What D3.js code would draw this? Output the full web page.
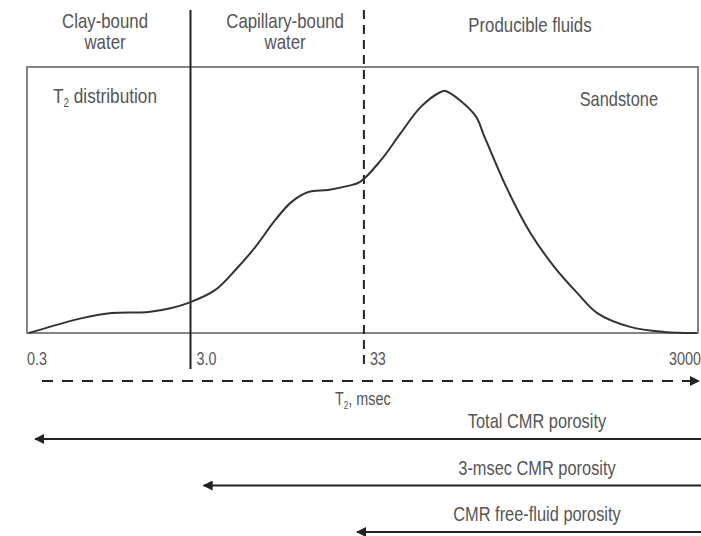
<!DOCTYPE html>
<html>
<head>
<meta charset="utf-8">
<script src="https://cdn.jsdelivr.net/npm/d3@7"></script>
<style>
  body { margin: 0; background: #fff; }
  svg text { font-family: "Liberation Sans", Arial, sans-serif; fill: #555; }
</style>
</head>
<body>
<div id="chart"></div>
<script>
// Data
const t2Values = [0.32, 0.54, 0.67, 1.01, 1.68, 2.31, 2.92, 4.23, 5.58, 7.35, 9.69, 12.1, 15.3, 20.1, 26.5, 31.3,
    41.8, 55.0, 72.5, 95.5, 102, 153, 175, 241, 330, 460, 632, 832, 1312, 2095, 3300];
const amplitude = [0, 0.041, 0.056, 0.075, 0.079, 0.094, 0.113, 0.162, 0.237, 0.323, 0.425, 0.492, 0.530, 0.538, 0.553, 0.568,
    0.650, 0.752, 0.850, 0.906, 0.910, 0.820, 0.737, 0.538, 0.376, 0.248, 0.150, 0.075, 0.023, 0.004, 0];

const tickValues = [0.3, 3, 33, 3000];
const tickLabels = ["0.3", "3.0", "33", "3000"];

const cutoffs = [3, 33];          // solid, dashed
const zoneLabels = [["Clay-bound", "water"], ["Capillary-bound", "water"], ["Producible fluids"]];
const zoneCenters = [0.92, 11.1, 328]; // T2 position of zone label centres

const porosityLabels = ["Total CMR porosity", "3-msec CMR porosity", "CMR free-fluid porosity"];
const porosityFrom = [0.35, 3.6, 30];

const width = 701, height = 536;
const plot = { left: 27, right: 698, top: 67, bottom: 333 };
const narrow = 0.82; // squeeze to look like a condensed face

const svg = d3.select("#chart").append("svg")
    .attr("width", width)
    .attr("height", height);

const defs = svg.append("defs");
defs.append("marker")
    .attr("id", "head")
    .attr("viewBox", "0 0 10 10")
    .attr("refX", 9).attr("refY", 5)
    .attr("markerWidth", 5).attr("markerHeight", 5)
    .attr("orient", "auto-start-reverse")
    .append("path")
    .attr("d", "M0,0 L10,5 L0,10 Z")
    .attr("fill", "#222");

// narrow text helper
function addText(px, py, size, anchor) {
    return svg.append("text")
        .attr("transform", `translate(${px},${py}) scale(${narrow},1)`)
        .attr("text-anchor", anchor || "start")
        .style("font-size", size + "px");
}

// Scales
const x = d3.scaleLog()
    .domain([0.3, 3000])
    .range([24, 690]);

const y = d3.scaleLinear()
    .domain([0, 1])
    .range([plot.bottom, plot.top]);

// Box
svg.append("rect")
    .attr("x", plot.left)
    .attr("y", plot.top)
    .attr("width", plot.right - plot.left)
    .attr("height", plot.bottom - plot.top)
    .attr("fill", "none")
    .attr("stroke", "#777")
    .attr("stroke-width", 1.8);

// Cutoff lines
cutoffs.forEach((c, i) => {
    svg.append("line")
        .attr("x1", x(c)).attr("x2", x(c))
        .attr("y1", 10).attr("y2", 369)
        .attr("stroke", "#222")
        .attr("stroke-width", 2)
        .attr("stroke-dasharray", i === 1 ? "9,6" : null);
});

// T2 curve
const points = t2Values.map((t, i) => ({ t: t, a: amplitude[i] }));
const line = d3.line()
    .x(d => x(d.t))
    .y(d => y(d.a))
    .curve(d3.curveCatmullRom.alpha(0.5));

svg.append("path")
    .datum(points)
    .attr("d", line)
    .attr("fill", "none")
    .attr("stroke", "#333")
    .attr("stroke-width", 2);

// Zone labels above box
zoneLabels.forEach((lines, i) => {
    const t = addText(x(zoneCenters[i]), lines.length === 1 ? 32 : 28, 20.5, "middle");
    lines.forEach((s, j) => {
        t.append("tspan")
            .attr("x", 0)
            .attr("y", j * 21)
            .text(s);
    });
});

// Inner labels
const t2Label = addText(53, 103, 21);
t2Label.append("tspan").text("T");
t2Label.append("tspan").attr("dy", 4).style("font-size", "12px").text("2");
t2Label.append("tspan").attr("dy", -4).text(" distribution");

addText(658, 106, 20, "end").text("Sandstone");

// Tick labels
tickValues.forEach((v, i) => {
    const last = i === tickValues.length - 1;
    addText(i === 0 ? plot.left : last ? 701 : x(v) + 6, 365, 17.5, last ? "end" : "start")
        .text(tickLabels[i]);
});

// T2 axis arrow (dashed)
svg.append("line")
    .attr("x1", 42).attr("x2", 699)
    .attr("y1", 381).attr("y2", 381)
    .attr("stroke", "#222")
    .attr("stroke-width", 2)
    .attr("stroke-dasharray", "11,9")
    .attr("marker-end", "url(#head)");

const axisLabel = addText(335, 405, 17.5);
axisLabel.append("tspan").text("T");
axisLabel.append("tspan").attr("dy", 4).style("font-size", "10px").text("2");
axisLabel.append("tspan").attr("dy", -4).text(", msec");

// Porosity arrows
porosityLabels.forEach((label, i) => {
    const yy = 439 + i * 46.5;
    svg.append("line")
        .attr("x1", 701).attr("x2", x(porosityFrom[i]))
        .attr("y1", yy).attr("y2", yy)
        .attr("stroke", "#222")
        .attr("stroke-width", 2)
        .attr("marker-end", "url(#head)");
    addText(537, yy - 11, 20, "middle").text(label);
});
</script>
</body>
</html>
